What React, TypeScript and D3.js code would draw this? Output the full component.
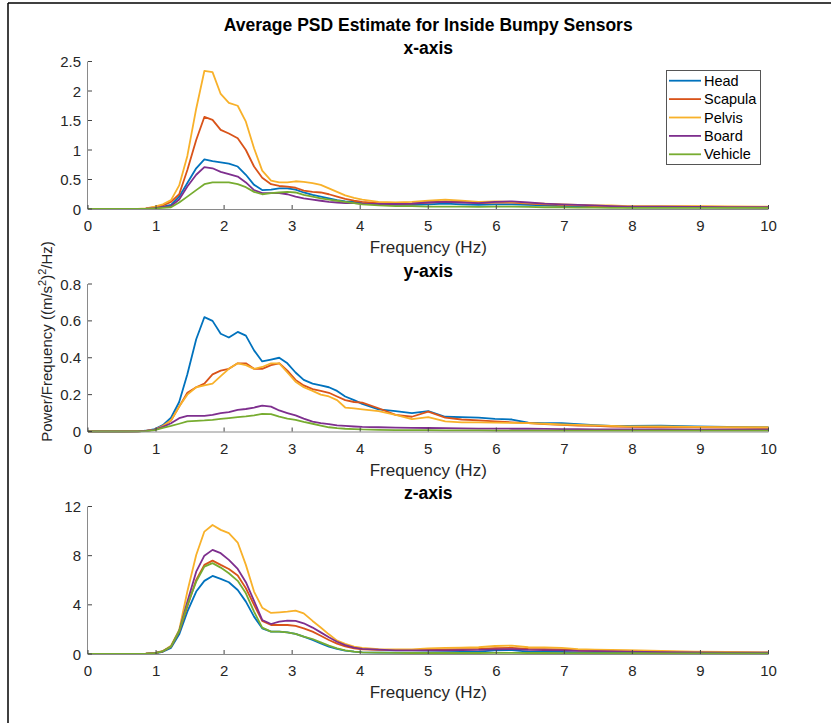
import React from "react";
import * as d3 from "d3";

const freq = [0, 0.49, 0.73, 0.85, 0.98, 1.1, 1.22, 1.34, 1.46, 1.59, 1.71, 1.83, 1.95, 2.07, 2.2, 2.32, 2.44, 2.56, 2.69, 2.81, 2.93, 3.05, 3.17, 3.3, 3.42, 3.54, 3.66, 3.78, 3.91, 4.03, 4.27, 4.52, 4.76, 5.0, 5.25, 5.49, 5.74, 5.98, 6.23, 6.47, 6.71, 6.96, 7.2, 7.45, 7.69, 7.93, 8.42, 8.91, 9.4, 9.89, 10.0];

const seriesNames = ["Head", "Scapula", "Pelvis", "Board", "Vehicle"];
const seriesColors = ["#0072BD", "#D95319", "#F8B12A", "#7E2F8E", "#77AC30"];

// x-axis panel
const headX = [0,0,0.001,0.005,0.02,0.04,0.07,0.21,0.44,0.69, 0.84,0.81,0.79,0.77,0.72,0.58,0.41,0.32,0.33,0.35, 0.35,0.33,0.28,0.24,0.21,0.18,0.15,0.13,0.12,0.1, 0.08,0.07,0.07,0.08,0.09,0.08,0.07,0.08,0.08,0.07, 0.06,0.05,0.05,0.04,0.04,0.03,0.03,0.03,0.03,0.03, 0.03];
const scapulaX = [0,0,0.002,0.008,0.03,0.06,0.12,0.25,0.66,1.17, 1.56,1.51,1.34,1.28,1.2,1.0,0.72,0.53,0.42,0.39, 0.38,0.36,0.31,0.29,0.28,0.25,0.21,0.17,0.14,0.12, 0.1,0.085,0.09,0.11,0.13,0.12,0.1,0.11,0.11,0.09, 0.08,0.07,0.06,0.05,0.05,0.04,0.04,0.04,0.035,0.03, 0.03];
const pelvisX = [0,0,0.002,0.01,0.04,0.08,0.15,0.4,0.9,1.7, 2.34,2.32,1.95,1.8,1.75,1.48,1.03,0.65,0.48,0.45, 0.45,0.47,0.46,0.44,0.41,0.35,0.29,0.23,0.19,0.16, 0.12,0.11,0.12,0.14,0.16,0.14,0.12,0.13,0.12,0.1, 0.09,0.08,0.07,0.06,0.06,0.05,0.05,0.05,0.045,0.04, 0.04];
const boardX = [0,0,0.001,0.004,0.015,0.03,0.05,0.16,0.38,0.58, 0.71,0.69,0.63,0.59,0.55,0.45,0.32,0.27,0.27,0.27, 0.25,0.21,0.18,0.16,0.14,0.12,0.11,0.1,0.1,0.09, 0.085,0.085,0.09,0.11,0.12,0.11,0.1,0.12,0.13,0.11, 0.09,0.08,0.07,0.06,0.05,0.04,0.04,0.035,0.03,0.03, 0.03];
const vehicleX = [0,0,0.001,0.003,0.01,0.02,0.03,0.11,0.21,0.32, 0.42,0.45,0.45,0.45,0.42,0.37,0.29,0.25,0.27,0.28, 0.29,0.28,0.24,0.21,0.18,0.16,0.14,0.12,0.1,0.08, 0.06,0.05,0.05,0.04,0.04,0.04,0.035,0.04,0.04,0.035, 0.03,0.03,0.025,0.025,0.02,0.02,0.02,0.02,0.02,0.02, 0.02];

// y-axis panel
const headY = [0,0,0.001,0.004,0.013,0.035,0.075,0.16,0.31,0.5, 0.62,0.6,0.53,0.51,0.54,0.52,0.44,0.38,0.39,0.4, 0.37,0.32,0.28,0.26,0.25,0.24,0.22,0.19,0.17,0.15, 0.12,0.11,0.1,0.11,0.08,0.078,0.075,0.068,0.065,0.048, 0.045,0.045,0.04,0.035,0.03,0.03,0.032,0.028,0.025,0.023, 0.023];
const scapulaY = [0,0,0.001,0.003,0.01,0.03,0.06,0.135,0.21,0.24, 0.26,0.31,0.33,0.34,0.37,0.37,0.34,0.34,0.36,0.37, 0.33,0.28,0.25,0.23,0.22,0.21,0.19,0.17,0.16,0.157, 0.126,0.09,0.08,0.108,0.075,0.065,0.06,0.055,0.05,0.045, 0.04,0.036,0.032,0.03,0.027,0.025,0.023,0.022,0.021,0.02, 0.02];
const pelvisY = [0,0,0.001,0.003,0.01,0.03,0.06,0.135,0.2,0.24, 0.25,0.26,0.3,0.34,0.37,0.36,0.34,0.35,0.37,0.37, 0.32,0.27,0.24,0.22,0.2,0.19,0.17,0.13,0.125,0.12, 0.11,0.09,0.067,0.078,0.055,0.049,0.049,0.048,0.047,0.045, 0.042,0.038,0.036,0.033,0.03,0.028,0.027,0.025,0.024,0.023, 0.023];
const boardY = [0,0,0.001,0.003,0.01,0.025,0.045,0.072,0.085,0.085, 0.085,0.09,0.1,0.105,0.117,0.122,0.13,0.14,0.135,0.114, 0.1,0.087,0.07,0.054,0.045,0.04,0.033,0.03,0.027,0.025, 0.023,0.021,0.02,0.019,0.018,0.017,0.016,0.016,0.015,0.015, 0.014,0.013,0.013,0.012,0.012,0.011,0.011,0.01,0.01,0.01, 0.01];
const vehicleY = [0,0,0.001,0.002,0.008,0.02,0.03,0.042,0.055,0.058, 0.06,0.063,0.069,0.073,0.078,0.082,0.087,0.096,0.094,0.081, 0.07,0.063,0.052,0.042,0.032,0.023,0.018,0.015,0.013,0.011, 0.009,0.008,0.007,0.007,0.006,0.006,0.006,0.005,0.005,0.005, 0.005,0.005,0.005,0.005,0.005,0.005,0.005,0.005,0.005,0.005, 0.005];

// z-axis panel
const headZ = [0,0,0.003,0.015,0.06,0.18,0.5,1.6,3.45,5.08, 5.95,6.35,6.11,5.84,5.21,4.26,3.04,2.09,1.82,1.82, 1.76,1.63,1.41,1.14,0.87,0.6,0.41,0.28,0.19,0.14, 0.11,0.11,0.12,0.14,0.16,0.18,0.2,0.3,0.32,0.2, 0.18,0.17,0.14,0.12,0.1,0.09,0.08,0.07,0.06,0.06, 0.06];
const scapulaZ = [0,0,0.004,0.02,0.07,0.22,0.6,1.82,3.86,6.03, 7.25,7.6,7.25,6.92,6.38,5.35,3.99,2.69,2.36,2.36, 2.36,2.28,2.09,1.82,1.49,1.14,0.84,0.62,0.46,0.38, 0.33,0.33,0.34,0.35,0.38,0.4,0.42,0.48,0.5,0.42, 0.4,0.38,0.3,0.28,0.26,0.24,0.2,0.16,0.13,0.11, 0.11];
const pelvisZ = [0,0,0.005,0.02,0.08,0.25,0.68,1.95,5.08,8.06, 9.96,10.5,10.1,9.83,9.07,7.25,5.08,3.77,3.34,3.39, 3.45,3.53,3.31,2.69,2.15,1.6,1.09,0.82,0.6,0.5, 0.4,0.38,0.38,0.45,0.5,0.52,0.55,0.65,0.68,0.55, 0.54,0.5,0.4,0.36,0.34,0.32,0.25,0.2,0.17,0.14, 0.14];
const boardZ = [0,0,0.004,0.02,0.07,0.22,0.6,1.87,4.26,6.7, 8.0,8.47,8.2,7.66,6.92,5.84,4.32,2.77,2.44,2.63, 2.72,2.69,2.5,2.15,1.76,1.36,1.0,0.72,0.52,0.42, 0.35,0.3,0.3,0.3,0.3,0.31,0.33,0.38,0.4,0.33, 0.32,0.3,0.25,0.23,0.22,0.2,0.16,0.13,0.11,0.1, 0.1];
const vehicleZ = [0,0,0.004,0.02,0.07,0.22,0.6,1.87,3.99,5.89, 7.11,7.39,7.03,6.57,5.95,4.94,3.45,2.15,1.82,1.82, 1.76,1.63,1.41,1.22,0.95,0.68,0.46,0.3,0.19,0.14, 0.11,0.09,0.08,0.08,0.08,0.08,0.08,0.09,0.09,0.08, 0.08,0.07,0.07,0.06,0.06,0.06,0.05,0.05,0.05,0.05, 0.05];

const xTicks = [0, 1, 2, 3, 4, 5, 6, 7, 8, 9, 10];
const yTicksX = [0, 0.5, 1, 1.5, 2, 2.5];
const yTicksY = [0, 0.2, 0.4, 0.6, 0.8];
const yTicksZ = [0, 4, 8, 12];

const mainTitle = "Average PSD Estimate for Inside Bumpy Sensors";
const xLabel = "Frequency (Hz)";

const W = 831;
const H = 723;
const FONT = "'Liberation Sans', Arial, Helvetica, sans-serif";
const TXT = "#262626";
const AX = "#8a8a8a";

type PanelDef = {
  title: string;
  top: number;
  bottom: number;
  yMax: number;
  ticks: number[];
  series: number[][];
};

const panels: PanelDef[] = [
  { title: "x-axis", top: 61.5, bottom: 209, yMax: 2.5, ticks: yTicksX, series: [headX, scapulaX, pelvisX, boardX, vehicleX] },
  { title: "y-axis", top: 284, bottom: 431.5, yMax: 0.8, ticks: yTicksY, series: [headY, scapulaY, pelvisY, boardY, vehicleY] },
  { title: "z-axis", top: 506.5, bottom: 654, yMax: 12, ticks: yTicksZ, series: [headZ, scapulaZ, pelvisZ, boardZ, vehicleZ] },
];

const xScale = d3.scaleLinear().domain([0, 10]).range([88, 768.5]);

function Panel({ p }: { p: PanelDef }) {
  const y = d3.scaleLinear().domain([0, p.yMax]).range([p.bottom, p.top]);
  const line = (vals: number[]) =>
    d3
      .line<number>()
      .x((_, i) => xScale(freq[i]))
      .y((v) => y(v))(vals) || "";
  const [x0, x1] = xScale.range();
  return (
    <g>
      {p.series.map((s, i) => (
        <path key={i} d={line(s)} fill="none" stroke={seriesColors[i]} strokeWidth={1.8} strokeLinejoin="round" />
      ))}
      <line x1={x0} x2={x1} y1={p.bottom + 0.5} y2={p.bottom + 0.5} stroke={AX} strokeWidth={1} />
      <line x1={x0 - 0.5} x2={x0 - 0.5} y1={p.top} y2={p.bottom + 0.5} stroke={AX} strokeWidth={1} />
      {xTicks.map((t) => (
        <g key={"x" + t}>
          <line x1={xScale(t)} x2={xScale(t)} y1={p.bottom} y2={p.bottom - 4} stroke="#444" strokeWidth={1} />
          <text x={xScale(t)} y={p.bottom + 22} textAnchor="middle" fontSize={15} fill={TXT} fontFamily={FONT}>
            {t}
          </text>
        </g>
      ))}
      {p.ticks.map((t) => (
        <g key={"y" + t}>
          <line x1={x0} x2={x0 + 4} y1={y(t)} y2={y(t)} stroke="#444" strokeWidth={1} />
          <text x={x0 - 7} y={y(t) + 5.5} textAnchor="end" fontSize={15} fill={TXT} fontFamily={FONT}>
            {String(t)}
          </text>
        </g>
      ))}
      <text x={(x0 + x1) / 2} y={p.bottom + 44} textAnchor="middle" fontSize={17} fill={TXT} fontFamily={FONT}>
        {xLabel}
      </text>
      <text x={(x0 + x1) / 2} y={p.top - 7.5} textAnchor="middle" fontSize={17.5} fontWeight="bold" fill="#000" fontFamily={FONT}>
        {p.title}
      </text>
    </g>
  );
}

export default function App() {
  const [x0, x1] = xScale.range();
  const legendX = 666;
  const legendY = 70;
  return (
    <svg
      width={W}
      height={H}
      style={{ position: "absolute", left: 0, top: 0, background: "#fff" }}
      xmlns="http://www.w3.org/2000/svg"
    >
      <rect x={0} y={0} width={W} height={H} fill="#fff" />
      <line x1={8} x2={W} y1={3} y2={3} stroke="#000" strokeWidth={1.5} />
      <line x1={8} x2={8} y1={3} y2={H} stroke="#000" strokeWidth={1.5} />
      <text x={(x0 + x1) / 2} y={31} textAnchor="middle" fontSize={17.5} fontWeight="bold" fill="#000" fontFamily={FONT}>
        {mainTitle}
      </text>
      {panels.map((p, i) => (
        <Panel key={i} p={p} />
      ))}
      <text
        transform={`translate(52,341.5) rotate(-90)`}
        textAnchor="middle"
        fontSize={15}
        fill={TXT}
        fontFamily={FONT}
      >
        Power/Frequency ((m/s
        <tspan dy={-6} fontSize={11}>2</tspan>
        <tspan dy={6}>)</tspan>
        <tspan dy={-6} fontSize={11}>2</tspan>
        <tspan dy={6}>/Hz)</tspan>
      </text>
      <rect x={legendX + 0.5} y={legendY + 0.5} width={94} height={94} fill="#fff" stroke="#555" strokeWidth={1} />
      {seriesNames.map((n, i) => {
        const cy = legendY + 10.7 + i * 18.4;
        return (
          <g key={n}>
            <line x1={legendX + 3} x2={legendX + 35} y1={cy} y2={cy} stroke={seriesColors[i]} strokeWidth={1.8} />
            <text x={legendX + 38} y={cy + 5} fontSize={14.5} fill="#000" fontFamily={FONT}>
              {n}
            </text>
          </g>
        );
      })}
    </svg>
  );
}
